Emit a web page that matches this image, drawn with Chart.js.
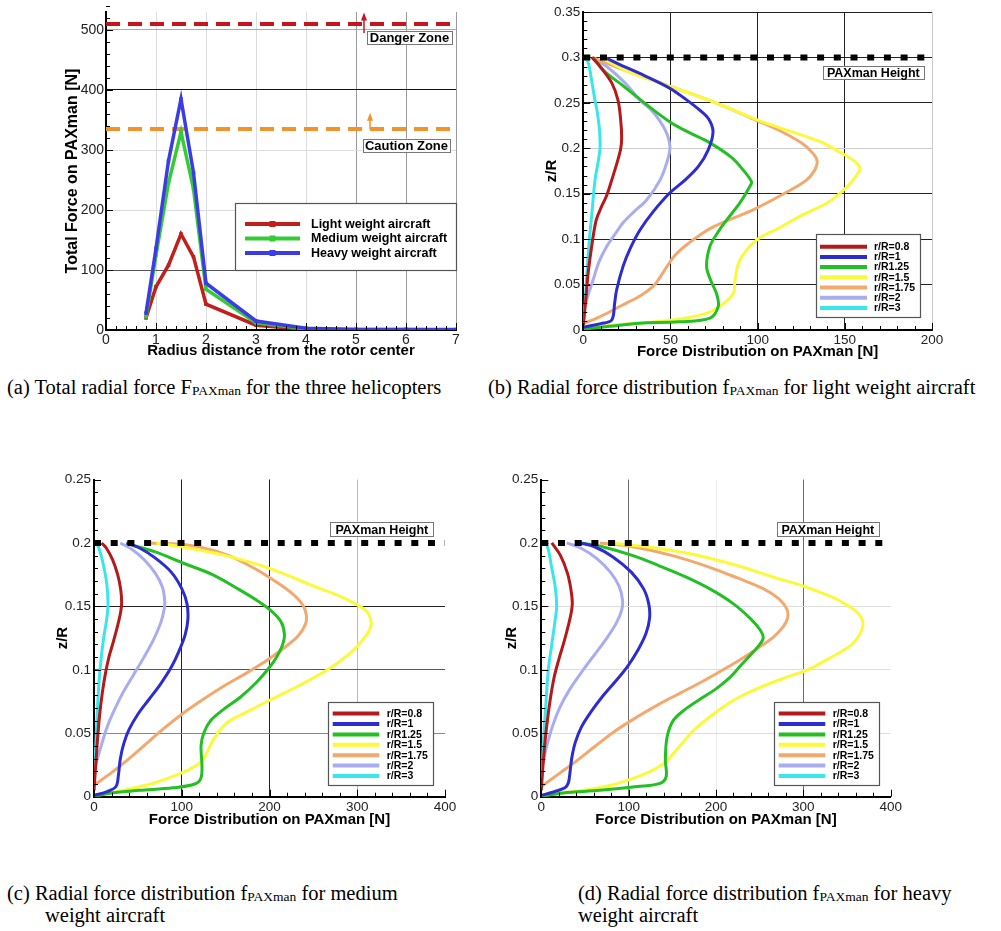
<!DOCTYPE html>
<html><head><meta charset="utf-8">
<script src="https://cdn.jsdelivr.net/npm/chart.js@4.4.1/dist/chart.umd.min.js"></script>
<style>
html,body{margin:0;padding:0;background:#fff;}
body{width:1001px;height:931px;position:relative;overflow:hidden;}
canvas{position:absolute;}
.cap{position:absolute;font-family:"Liberation Serif","Times New Roman",serif;font-size:20.5px;line-height:22px;color:#000;white-space:nowrap;}
.cap .s{font-size:13.5px;position:relative;top:1px;}
</style></head>
<body>
<canvas id="ca" width="480" height="370" style="left:0px;top:0px"></canvas>
<canvas id="cb" width="480" height="370" style="left:500px;top:0px"></canvas>
<canvas id="cc" width="480" height="380" style="left:0px;top:460px"></canvas>
<canvas id="cd" width="450" height="380" style="left:470px;top:460px"></canvas>
<div class="cap" style="left:7px;top:375.5px">(a) Total radial force F<span class="s">PAXman</span> for the three helicopters</div>
<div class="cap" style="left:488px;top:375.5px">(b) Radial force distribution f<span class="s">PAXman</span> for light weight aircraft</div>
<div class="cap" style="left:7px;top:882px">(c) Radial force distribution f<span class="s">PAXman</span> for medium</div>
<div class="cap" style="left:45px;top:904px">weight aircraft</div>
<div class="cap" style="left:578px;top:882px">(d) Radial force distribution f<span class="s">PAXman</span> for heavy</div>
<div class="cap" style="left:578px;top:904px">weight aircraft</div>
<script>
// ---------- DATA ----------
const radiusCenters = [0.8, 1, 1.25, 1.5, 1.75, 2, 3, 4, 5, 6, 7];
const lightTotalForce  = [20, 72, 108, 160, 122, 43, 8, 1, 0, 0, 0];
const mediumTotalForce = [22, 125, 245, 330, 235, 68, 12, 2, 1, 1, 0];
const heavyTotalForce  = [28, 136, 282, 385, 262, 78, 15, 3, 1, 1, 1];
const aircraftNames = ['Light weight aircraft', 'Medium weight aircraft', 'Heavy weight aircraft'];
const dangerLevel = 510;
const cautionLevel = 335;

const seriesNames = ['r/R=0.8', 'r/R=1', 'r/R1.25', 'r/R=1.5', 'r/R=1.75', 'r/R=2', 'r/R=3'];
const paxmanHeightLight = 0.3;
const paxmanHeightMedHeavy = 0.2;

const ticksAX = [0, 1, 2, 3, 4, 5, 6, 7];
const ticksAY = [0, 100, 200, 300, 400, 500];
const ticksBX = [0, 50, 100, 150, 200];
const ticksBY = [0, 0.05, 0.1, 0.15, 0.2, 0.25, 0.3, 0.35];
const ticksCDX = [0, 100, 200, 300, 400];
const ticksCDY = [0, 0.05, 0.1, 0.15, 0.2, 0.25];

// light weight aircraft: [force N, z/R]
const light_r08 = [[0,0.005],[1.5,0.035],[2.8,0.063],[4.8,0.092],[7.4,0.121],[10.5,0.136],[13.4,0.148],[16.3,0.165],[19.5,0.185],[21.5,0.2],[22,0.212],[21.5,0.23],[19.9,0.253],[16.3,0.272],[9.6,0.29],[5,0.3]];
const light_r1 = [[0,0.003],[10,0.007],[16.3,0.011],[18,0.03],[19.1,0.044],[22.8,0.07],[27,0.09],[32.5,0.11],[40,0.13],[49.7,0.151],[58.3,0.165],[66,0.18],[71.6,0.198],[74.4,0.218],[72,0.232],[66.8,0.242],[58,0.255],[49.7,0.266],[35,0.28],[20,0.293],[12.4,0.3]];
const light_r125 = [[0,0.001],[15,0.004],[32.5,0.0075],[55,0.009],[72.6,0.013],[77.4,0.026],[76.4,0.04],[73,0.055],[70.7,0.07],[72.6,0.092],[77,0.107],[82.2,0.121],[89.8,0.14],[95.5,0.158],[96.5,0.163],[91.7,0.176],[85,0.19],[72.6,0.206],[60,0.218],[49.7,0.229],[35,0.25],[22,0.27],[12,0.285],[5.7,0.3]];
const light_r15 = [[0,0.002],[20,0.006],[51.6,0.011],[70,0.018],[78.3,0.026],[86,0.04],[87,0.055],[89.8,0.077],[99.3,0.099],[112,0.112],[124.2,0.125],[140,0.14],[147,0.15],[154.7,0.165],[158.6,0.178],[154.7,0.187],[145,0.198],[137.5,0.206],[120,0.218],[100,0.231],[76,0.25],[50,0.268],[25,0.285],[10,0.3]];
const light_r175 = [[0,0.007],[10,0.015],[22,0.027],[33,0.038],[40,0.048],[44,0.058],[48,0.07],[53,0.083],[60,0.095],[74,0.113],[97,0.132],[115,0.15],[128,0.165],[133,0.177],[134,0.187],[131,0.196],[125,0.206],[113,0.219],[99,0.231],[76,0.25],[50,0.268],[25,0.285],[5,0.3]];
const light_r2 = [[0,0.02],[3,0.04],[5.6,0.055],[9,0.075],[13.4,0.092],[18,0.105],[22.8,0.118],[29,0.13],[36.3,0.143],[44,0.165],[48,0.185],[49.7,0.202],[47,0.22],[40,0.24],[32.5,0.253],[23.9,0.272],[13.4,0.29],[5,0.3]];
const light_r3 = [[0,0.005],[1,0.03],[2,0.06],[3.5,0.1],[5,0.13],[6.7,0.165],[8.5,0.185],[9.6,0.2],[9.3,0.22],[8,0.24],[6.7,0.253],[5,0.272],[3.4,0.29],[1.9,0.3]];

// medium weight aircraft
const medium_r08 = [[0,0.005],[2,0.025],[4,0.045],[6.5,0.065],[9.5,0.082],[13,0.097],[17,0.11],[22,0.122],[27,0.135],[30.5,0.146],[31.5,0.153],[30.5,0.163],[27,0.175],[21,0.187],[14,0.196],[8.7,0.2]];
const medium_r1 = [[0,0.001],[15,0.004],[25,0.008],[28,0.018],[30,0.03],[34,0.042],[40,0.053],[50,0.065],[63,0.077],[76,0.089],[88,0.102],[97,0.115],[104,0.128],[107,0.14],[106,0.152],[100,0.164],[88,0.177],[70,0.188],[52,0.196],[37,0.2]];
const medium_r125 = [[0,0],[20,0.003],[52,0.005],[90,0.007],[115,0.01],[122,0.015],[123,0.025],[122,0.04],[125,0.05],[133,0.06],[148,0.069],[166,0.078],[185,0.09],[200,0.102],[208,0.11],[215,0.12],[217,0.128],[213,0.138],[201,0.147],[185,0.155],[166,0.163],[135,0.175],[102,0.184],[70,0.193],[50,0.197],[37,0.2]];
const medium_r15 = [[0,0.001],[33,0.005],[65,0.01],[90,0.016],[110,0.022],[124,0.029],[136,0.045],[151,0.058],[175,0.067],[200,0.076],[235,0.088],[266,0.1],[290,0.112],[303,0.121],[313,0.13],[316,0.137],[312,0.145],[303,0.15],[280,0.158],[254,0.165],[200,0.18],[150,0.19],[100,0.197],[71,0.2]];
const medium_r175 = [[0,0.009],[20,0.019],[40,0.03],[60,0.042],[80,0.054],[102,0.066],[125,0.077],[150,0.088],[175,0.098],[198,0.108],[218,0.118],[233,0.127],[241,0.136],[242,0.143],[238,0.151],[226,0.16],[206,0.17],[180,0.181],[150,0.191],[110,0.198],[64,0.2]];
const medium_r2 = [[0,0.02],[4,0.03],[9,0.042],[15,0.055],[23,0.068],[33,0.082],[45,0.096],[57,0.11],[68,0.124],[76,0.137],[80,0.148],[80.5,0.155],[78,0.165],[70,0.176],[57,0.187],[43,0.195],[30,0.2]];
const medium_r3 = [[0,0.01],[2,0.04],[4,0.07],[6.8,0.1],[11,0.125],[14.5,0.14],[16,0.152],[14.5,0.168],[10,0.185],[6,0.195],[3,0.2]];

// heavy weight aircraft
const heavy_r08 = [[0,0.005],[2,0.025],[4.5,0.045],[7.5,0.063],[11,0.08],[15,0.095],[20,0.108],[26,0.122],[31,0.135],[34.5,0.146],[35.5,0.153],[34,0.163],[30,0.176],[22,0.19],[12,0.2]];
const heavy_r1 = [[0,0.001],[15,0.004],[27,0.007],[31,0.011],[33,0.02],[35,0.031],[39,0.043],[46,0.055],[57,0.067],[70,0.079],[85,0.091],[99,0.103],[111,0.116],[120,0.129],[124,0.141],[123,0.152],[117,0.164],[103,0.177],[82,0.189],[61,0.197],[44,0.2]];
const heavy_r125 = [[0,0],[25,0.003],[67,0.005],[110,0.008],[136,0.0105],[143,0.016],[142,0.029],[144,0.047],[151,0.06],[165,0.069],[182,0.077],[200,0.085],[216,0.094],[229,0.104],[240,0.112],[249,0.119],[254,0.125],[251,0.131],[240,0.14],[220,0.152],[195,0.163],[166,0.173],[135,0.182],[105,0.19],[70,0.197],[46,0.2]];
const heavy_r15 = [[0,0.001],[48,0.005],[80,0.009],[105,0.0145],[125,0.02],[140,0.026],[155,0.037],[174,0.052],[195,0.064],[220,0.076],[250,0.086],[280,0.094],[305,0.1],[327,0.108],[345,0.115],[357,0.121],[366,0.13],[368,0.138],[362,0.145],[350,0.151],[334,0.157],[300,0.166],[266,0.173],[220,0.183],[166,0.192],[120,0.197],[79,0.2]];
const heavy_r175 = [[0,0.008],[20,0.018],[40,0.028],[62,0.04],[85,0.052],[110,0.063],[135,0.073],[160,0.082],[185,0.091],[208,0.1],[230,0.109],[250,0.118],[266,0.126],[277,0.134],[282,0.141],[281,0.148],[272,0.156],[254,0.164],[226,0.172],[192,0.181],[150,0.19],[105,0.197],[67,0.2]];
const heavy_r2 = [[0,0.02],[3,0.03],[7,0.042],[13,0.056],[21,0.07],[32,0.084],[46,0.098],[61,0.112],[75,0.125],[86,0.137],[92,0.147],[93,0.155],[89,0.166],[79,0.177],[63,0.188],[45,0.196],[29,0.2]];
const heavy_r3 = [[0,0.015],[2,0.04],[5,0.07],[8,0.1],[12,0.12],[16,0.14],[17.6,0.15],[16,0.165],[12,0.18],[8,0.195],[5,0.2]];

// ---------- STYLE ----------
const FONT = '"Liberation Sans", Arial, Helvetica, sans-serif';
const curveColors = ['#b41a1a', '#2c2cd0', '#24bf24', '#fafa3a', '#f2a96e', '#a9acf0', '#3ae6ec'];
const aircraftColors = ['#c0201c', '#34cc34', '#3c3ce6'];

const innerTicks = {
  id: 'innerTicks',
  afterDraw(chart, args, o) {
    if (!o || !o.enabled) return;
    const {ctx, chartArea: ca} = chart;
    const sx = chart.scales.x, sy = chart.scales.y;
    ctx.save();
    ctx.strokeStyle = '#000'; ctx.lineWidth = 1;
    const draw = (scale, minor, major, horiz) => {
      const n = Math.round((scale.max - scale.min) / minor);
      for (let i = 0; i <= n; i++) {
        const v = scale.min + i * minor;
        const isMajor = Math.abs(v / major - Math.round(v / major)) < 1e-6;
        const L = isMajor ? 7 : 4;
        const p = Math.round(scale.getPixelForValue(v)) + 0.5;
        ctx.beginPath();
        if (horiz) { ctx.moveTo(p, ca.bottom); ctx.lineTo(p, ca.bottom - L); }
        else { ctx.moveTo(ca.left, p); ctx.lineTo(ca.left + L, p); }
        ctx.stroke();
      }
    };
    draw(sx, o.xMinor, o.xMajor, true);
    draw(sy, o.yMinor, o.yMajor, false);
    ctx.restore();
  }
};

const overlay = {
  id: 'overlay',
  afterDraw(chart, args, o) {
    if (!o) return;
    const {ctx} = chart; const sx = chart.scales.x, sy = chart.scales.y;
    ctx.save();
    (o.arrows || []).forEach(a => {
      const px = sx.getPixelForValue(a.x), p0 = sy.getPixelForValue(a.from), p1 = sy.getPixelForValue(a.to);
      ctx.strokeStyle = a.color; ctx.fillStyle = a.color; ctx.lineWidth = 1.5;
      ctx.beginPath(); ctx.moveTo(px, p0); ctx.lineTo(px, p1 + 6); ctx.stroke();
      ctx.beginPath(); ctx.moveTo(px, p1); ctx.lineTo(px - 3, p1 + 8); ctx.lineTo(px + 3, p1 + 8); ctx.closePath(); ctx.fill();
    });
    (o.boxes || []).forEach(b => {
      const left = sx.getPixelForValue(b.x0), right = sx.getPixelForValue(b.x1);
      const top = sy.getPixelForValue(b.y0), bottom = sy.getPixelForValue(b.y1);
      ctx.fillStyle = '#fff'; ctx.fillRect(left, top, right - left, bottom - top);
      ctx.strokeStyle = '#777'; ctx.lineWidth = 1; ctx.strokeRect(Math.round(left) + 0.5, Math.round(top) + 0.5, Math.round(right - left), Math.round(bottom - top));
      ctx.fillStyle = '#000'; ctx.font = 'bold ' + b.size + 'px ' + FONT; ctx.textAlign = 'center'; ctx.textBaseline = 'middle';
      ctx.fillText(b.text, (left + right) / 2, (top + bottom) / 2 + 1);
    });
    const L = o.legend;
    if (L) {
      ctx.fillStyle = '#fff'; ctx.fillRect(L.left, L.top, L.width, L.height);
      ctx.strokeStyle = '#555'; ctx.lineWidth = 1.2; ctx.strokeRect(L.left + 0.5, L.top + 0.5, L.width, L.height);
      const items = chart.data.datasets.filter(d => !d.label.startsWith('_'));
      items.forEach((d, i) => {
        const yy = L.top + L.first + i * L.gap;
        ctx.strokeStyle = d.borderColor; ctx.lineWidth = L.lineWidth; ctx.setLineDash([]);
        ctx.beginPath(); ctx.moveTo(L.left + L.x0, yy); ctx.lineTo(L.left + L.x1, yy); ctx.stroke();
        if (L.marker) { ctx.fillStyle = d.borderColor; const mx = L.left + (L.x0 + L.x1) / 2; ctx.fillRect(mx - 3, yy - 3, 6, 6); }
        ctx.fillStyle = '#000'; ctx.font = 'bold ' + L.size + 'px ' + FONT; ctx.textAlign = 'left'; ctx.textBaseline = 'middle';
        ctx.fillText(d.label, L.left + L.tx, yy + 0.5);
      });
    }
    ctx.restore();
  }
};

function axis(o) {
  return {
    type: 'linear', position: o.pos, min: o.min, max: o.max,
    afterBuildTicks: s => { s.ticks = o.ticks.map(v => ({value: v})); },
    afterFit: s => { if (o.pos === 'bottom') s.height = o.size; else s.width = o.size; },
    border: {display: true, color: '#000', width: 2},
    grid: {drawTicks: false, lineWidth: 1, color: c => (c.tick ? o.grid(c.tick.value) : 'rgba(0,0,0,0)')},
    ticks: {padding: o.pad, color: '#222', font: {family: FONT, size: o.tickSize}, callback: v => String(+(+v).toFixed(4)), maxRotation: 0, autoSkip: false},
    title: {display: true, text: o.title, color: '#000', padding: 0, font: {family: FONT, size: o.titleSize, weight: 'bold'}}
  };
}

const toPts = arr => arr.map(p => ({x: p[0], y: p[1]}));
function curveSet(list) {
  return list.map((arr, i) => ({
    label: seriesNames[i], data: toPts(arr), showLine: true, borderColor: curveColors[i], backgroundColor: curveColors[i],
    borderWidth: 3, pointRadius: 0, tension: 0.35, order: 2 + i
  }));
}
function paxLine(h, xmax) {
  return {label: '_pax', data: [{x: 0, y: h}, {x: xmax, y: h}], showLine: true, borderColor: '#000', borderWidth: 6, borderDash: [7, 9.7], pointRadius: 0, order: 0};
}
const common = {responsive: false, animation: false, events: [],
  plugins: {legend: {display: false}, tooltip: {enabled: false}}};

// ---------- CHART (a) ----------
const totalSets = [lightTotalForce, mediumTotalForce, heavyTotalForce].map((vals, i) => ({
  label: aircraftNames[i], data: radiusCenters.map((r, k) => ({x: r, y: vals[k]})), showLine: true,
  borderColor: aircraftColors[i], backgroundColor: aircraftColors[i], borderWidth: 3.5,
  pointStyle: 'rect', pointRadius: 2.5, pointBorderWidth: 0, tension: 0, order: 3 - i
}));
totalSets.push({label: '_danger', data: [{x: 0, y: dangerLevel}, {x: 7, y: dangerLevel}], showLine: true, borderColor: '#c4161c', borderWidth: 4, borderDash: [14, 8], pointRadius: 0, order: 5});
totalSets.push({label: '_caution', data: [{x: 0, y: cautionLevel}, {x: 7, y: cautionLevel}], showLine: true, borderColor: '#f2922a', borderWidth: 4, borderDash: [14, 8], pointRadius: 0, order: 5});

new Chart(document.getElementById('ca'), {
  type: 'scatter',
  data: {datasets: totalSets},
  options: Object.assign({}, common, {
    layout: {padding: {left: 63.4, top: 12, right: 24, bottom: 10}},
    scales: {
      x: axis({pos: 'bottom', min: 0, max: 7, ticks: ticksAX, size: 30, pad: 2, tickSize: 14, titleSize: 15,
        title: 'Radius distance from the rotor center', grid: v => (v >= 5 ? '#9a9a9a' : '#dcdcdc')}),
      y: axis({pos: 'left', min: 0, max: 530, ticks: ticksAY, size: 42.6, pad: 2, tickSize: 14, titleSize: 16,
        title: 'Total Force on PAXman [N]', grid: v => ({100: '#555', 400: '#111', 500: '#aaa'}[v] || '#dcdcdc')})
    },
    plugins: Object.assign({}, common.plugins, {
      innerTicks: {enabled: true, xMinor: 0.2, xMajor: 1, yMinor: 20, yMajor: 100},
      overlay: {
        arrows: [{x: 5.16, from: 495, to: 529, color: '#c4161c'}, {x: 5.28, from: 335, to: 362, color: '#f2922a'}],
        boxes: [{text: 'Danger Zone', x0: 5.22, x1: 6.92, y0: 498, y1: 476, size: 13},
                {text: 'Caution Zone', x0: 5.14, x1: 6.88, y0: 319, y1: 297, size: 13}],
        legend: {left: 235, top: 203, width: 221, height: 67, first: 21, gap: 14.5, x0: 10, x1: 65, tx: 76, size: 12.5, lineWidth: 4, marker: true}
      }
    })
  }),
  plugins: [innerTicks, overlay]
});

// ---------- CHART (b) ----------
const setsB = curveSet([light_r08, light_r1, light_r125, light_r15, light_r175, light_r2, light_r3]);
setsB.push(paxLine(paxmanHeightLight, 200));
new Chart(document.getElementById('cb'), {
  type: 'scatter',
  data: {datasets: setsB},
  options: Object.assign({}, common, {
    layout: {padding: {left: 42.7, top: 12, right: 48, bottom: 9}},
    scales: {
      x: axis({pos: 'bottom', min: 0, max: 200, ticks: ticksBX, size: 31, pad: 2, tickSize: 13.5, titleSize: 15,
        title: 'Force Distribution on PAXman [N]', grid: v => (v === 200 ? '#cccccc' : '#222')}),
      y: axis({pos: 'left', min: 0, max: 0.35, ticks: ticksBY, size: 40.6, pad: 3, tickSize: 13.5, titleSize: 15,
        title: 'z/R', grid: v => (Math.abs(v - 0.2) < 1e-6 ? '#cccccc' : '#222')})
    },
    plugins: Object.assign({}, common.plugins, {
      innerTicks: {enabled: true, xMinor: 10, xMajor: 50, yMinor: 0.01, yMajor: 0.05},
      overlay: {
        boxes: [{text: 'PAXman Height', x0: 137.4, x1: 195.3, y0: 0.2907, y1: 0.2764, size: 12.5}],
        legend: {left: 316, top: 234, width: 104, height: 83, first: 12.7, gap: 10.2, x0: 4, x1: 51, tx: 58, size: 10.5, lineWidth: 4}
      }
    })
  }),
  plugins: [innerTicks, overlay]
});

// ---------- CHARTS (c), (d) ----------
function makeCD(id, lists, grids, legendLeft) {
  const sets = curveSet(lists);
  sets.push(paxLine(paxmanHeightMedHeavy, 400));
  new Chart(document.getElementById(id), {
    type: 'scatter',
    data: {datasets: sets},
    options: Object.assign({}, common, {
      layout: {padding: grids.pad},
      scales: {
        x: axis({pos: 'bottom', min: 0, max: 400, ticks: ticksCDX, size: 32.3, pad: 2, tickSize: 13.5, titleSize: 15,
          title: 'Force Distribution on PAXman [N]', grid: grids.x}),
        y: axis({pos: 'left', min: 0, max: 0.25, ticks: ticksCDY, size: grids.yw, pad: 3, tickSize: 13.5, titleSize: 15,
          title: 'z/R', grid: grids.y})
      },
      plugins: Object.assign({}, common.plugins, {
        innerTicks: {enabled: true, xMinor: 20, xMajor: 100, yMinor: 0.01, yMajor: 0.05},
        overlay: {
          boxes: [{text: 'PAXman Height', x0: 269.5, x1: 386.5, y0: 0.2163, y1: 0.2053, size: 12.5}],
          legend: {left: legendLeft, top: 242, width: 105, height: 83, first: 11.6, gap: 10.4, x0: 4.7, x1: 51.3, tx: 58.7, size: 10.5, lineWidth: 4}
        }
      })
    }),
    plugins: [innerTicks, overlay]
  });
}
const near = (v, t) => Math.abs(v - t) < 1e-6;
makeCD('cc', [medium_r08, medium_r1, medium_r125, medium_r15, medium_r175, medium_r2, medium_r3], {
  pad: {left: 54.3, top: 19.5, right: 35, bottom: 11}, yw: 39.7,
  x: v => (v === 100 || v === 200 ? '#222' : (v === 300 ? '#bbbbbb' : 'rgba(0,0,0,0)')),
  y: v => (near(v, 0.05) ? '#888' : near(v, 0.1) ? '#555' : near(v, 0.15) ? '#222' : 'rgba(0,0,0,0)')
}, 328);
makeCD('cd', [heavy_r08, heavy_r1, heavy_r125, heavy_r15, heavy_r175, heavy_r2, heavy_r3], {
  pad: {left: 32.7, top: 19.5, right: 29.3, bottom: 11}, yw: 38.6,
  x: v => (v === 100 || v === 300 ? '#6a6a6a' : (v === 200 ? '#eeeeee' : 'rgba(0,0,0,0)')),
  y: v => (near(v, 0.05) || near(v, 0.1) || near(v, 0.15) ? '#dddddd' : 'rgba(0,0,0,0)')
}, 304);
</script>
</body></html>
